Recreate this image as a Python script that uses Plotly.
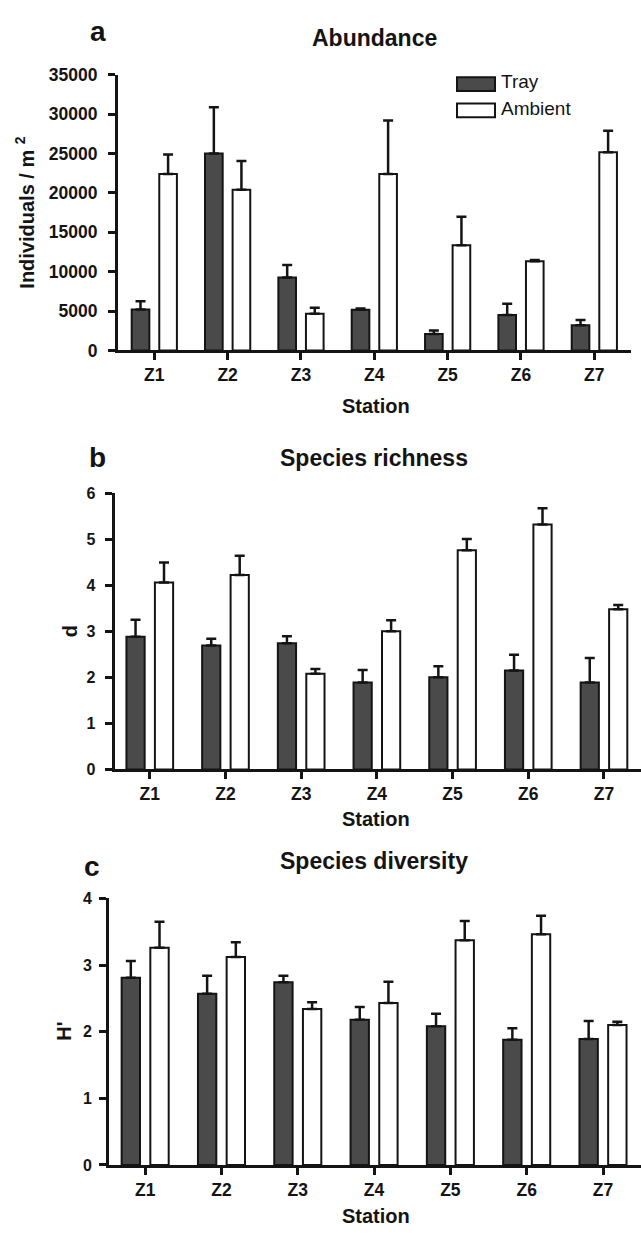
import plotly.graph_objects as go

W, H = 641, 1235

stations = ["Z1", "Z2", "Z3", "Z4", "Z5", "Z6", "Z7"]
series_names = ["Tray", "Ambient"]

abund_tray = [5200, 25000, 9250, 5150, 2080, 4480, 3200]
abund_tray_se = [1030, 5850, 1580, 170, 450, 1450, 650]
abund_amb = [22400, 20400, 4650, 22400, 13350, 11300, 25150]
abund_amb_se = [2450, 3650, 750, 6770, 3620, 170, 2740]

rich_tray = [2.88, 2.69, 2.74, 1.89, 2.00, 2.15, 1.89]
rich_tray_se = [0.37, 0.15, 0.15, 0.27, 0.24, 0.34, 0.53]
rich_amb = [4.06, 4.22, 2.08, 3.00, 4.76, 5.32, 3.48]
rich_amb_se = [0.43, 0.42, 0.10, 0.24, 0.24, 0.35, 0.09]

div_tray = [2.81, 2.57, 2.74, 2.18, 2.08, 1.88, 1.89]
div_tray_se = [0.25, 0.27, 0.10, 0.19, 0.19, 0.17, 0.27]
div_amb = [3.26, 3.12, 2.34, 2.43, 3.37, 3.46, 2.10]
div_amb_se = [0.39, 0.22, 0.10, 0.32, 0.29, 0.28, 0.05]

panel_titles = ["Abundance", "Species richness", "Species diversity"]
panel_letters = ["a", "b", "c"]
y_titles = ["Individuals / m <sup>2</sup>", "d", "H'"]
x_title = "Station"

FONT = "Liberation Sans, Arial, Helvetica, sans-serif"
INK = "#141414"
DARK = "#4a4a4a"


def px(x):
    return x / W


def py(y):
    return 1 - y / H


fig = go.Figure()

panels = [
    (abund_tray, abund_tray_se, abund_amb, abund_amb_se),
    (rich_tray, rich_tray_se, rich_amb, rich_amb_se),
    (div_tray, div_tray_se, div_amb, div_amb_se),
]

for i, (t, tse, a, ase) in enumerate(panels):
    xa = "x" if i == 0 else f"x{i+1}"
    ya = "y" if i == 0 else f"y{i+1}"
    for name, vals, se, fill in [
        (series_names[0], t, tse, DARK),
        (series_names[1], a, ase, "white"),
    ]:
        fig.add_trace(go.Bar(
            x=stations, y=vals, name=name, xaxis=xa, yaxis=ya,
            marker=dict(color=fill, line=dict(color=INK, width=2)),
            error_y=dict(type="data", array=se, arrayminus=[0] * len(se),
                         symmetric=False, visible=True, color=INK,
                         thickness=2.5, width=5),
            showlegend=False,
        ))

# panel geometry (pixels)
geo = [
    # x0, x1, xrange, ytop, ybot, yrange, dtick, ytick font size, y standoff
    (118, 630.7, [-0.495, 6.496], 65.7, 346, [0, 35000], 5000, 17.5, 7),
    (114.5, 641, [-0.466, 6.489], 491, 772, [0, 6], 1, 16, 6),
    (109, 641, [-0.474, 6.498], 903, 1174, [0, 4], 1, 16, 4),
]

axis_common = dict(showline=True, linecolor=INK, linewidth=3, ticks="outside",
                   ticklen=7, tickwidth=3, tickcolor=INK, showgrid=False,
                   zeroline=False)

layout = dict(
    width=W, height=H, autosize=False,
    margin=dict(l=0, r=0, t=0, b=0, pad=0),
    paper_bgcolor="white", plot_bgcolor="white",
    barmode="group", bargap=0.248, bargroupgap=0.36,
    showlegend=False,
    font=dict(family=FONT, color=INK),
)

annotations = []
for i, (x0, x1, xr, yt, yb, yr, dt, yfs, ystand) in enumerate(geo):
    sx = "" if i == 0 else str(i + 1)
    layout[f"xaxis{sx}"] = dict(
        domain=[px(x0), px(x1)], range=xr, anchor=f"y{sx}",
        type="category",
        tickfont=dict(family=FONT, size=17.5, color=INK, weight="bold"),
        ticklabelstandoff=0,
        **axis_common,
    )
    layout[f"yaxis{sx}"] = dict(
        domain=[py(yb), py(yt)], range=yr, anchor=f"x{sx}",
        tickmode="linear", tick0=0, dtick=dt, tickformat="d",
        tickfont=dict(family=FONT, size=yfs, color=INK, weight="bold"),
        ticklabelstandoff=ystand,
        **axis_common,
    )

# titles / letters / axis titles (pixel positions)
title_y = [28.5, 455, 865]
letter_pos = [(98, 22), (97, 455), (92, 871)]
station_y = [403, 822, 1226]
ytitle_pos = [(25, 206), (70, 631.5), (64, 1038.5)]
for i in range(3):
    annotations.append(dict(
        text=panel_titles[i], x=px(374), y=py(title_y[i]), xref="paper",
        yref="paper", showarrow=False, xanchor="center", yanchor="middle",
        font=dict(family=FONT, size=23, color=INK, weight="bold")))
    annotations.append(dict(
        text=panel_letters[i], x=px(letter_pos[i][0]), y=py(letter_pos[i][1]),
        xref="paper", yref="paper", showarrow=False, xanchor="center",
        yanchor="middle",
        font=dict(family=FONT, size=28, color=INK, weight="bold")))
    annotations.append(dict(
        text=x_title, x=px(376), y=py(station_y[i]), xref="paper",
        yref="paper", showarrow=False, xanchor="center", yanchor="middle",
        font=dict(family=FONT, size=20, color=INK, weight="bold")))
    annotations.append(dict(
        text=y_titles[i], x=px(ytitle_pos[i][0]), y=py(ytitle_pos[i][1]),
        xref="paper", yref="paper", showarrow=False, xanchor="center",
        yanchor="middle", textangle=-90,
        font=dict(family=FONT, size=20, color=INK, weight="bold")))

# legend (drawn manually to mimic the wide swatches)
shapes = []
legend_rows = [(68.3, 82.3, DARK, series_names[0], 73), (95, 109, "white", series_names[1], 100.5)]
for y0, y1, fill, label, ty in legend_rows:
    shapes.append(dict(type="rect", xref="paper", yref="paper",
                       x0=px(457), x1=px(495), y0=py(y1), y1=py(y0),
                       fillcolor=fill, line=dict(color=INK, width=2)))
    annotations.append(dict(
        text=label, x=px(499), y=py(ty), xref="paper", yref="paper",
        showarrow=False, xanchor="left", yanchor="middle",
        font=dict(family=FONT, size=19, color=INK)))

layout["annotations"] = annotations
layout["shapes"] = shapes
fig.update_layout(**layout)

fig.write_html(
    "out.html",
    config={"displayModeBar": False},
    post_script="document.body.style.margin='0';document.body.style.overflow='hidden';",
)
